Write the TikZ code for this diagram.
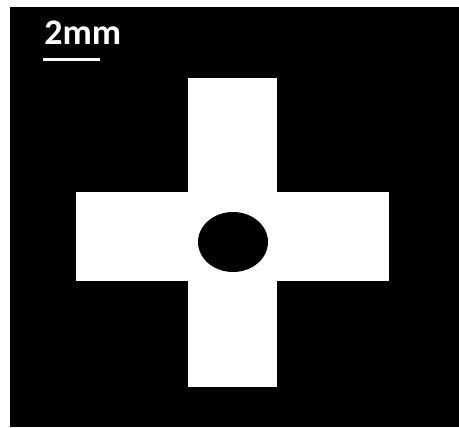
\documentclass[tikz,border=0pt]{standalone}
\usepackage{fontspec}
\setsansfont{Carlito}
\usetikzlibrary{positioning}

\begin{document}
\begin{tikzpicture}[x=0.5pt, y=-0.5pt, every node/.style={font=\sffamily\bfseries}]
\useasboundingbox (0,0) rectangle (459,427);
% Background
\fill[white] (0,0) rectangle (459,427);
\fill[black] (10,7) rectangle (459,427);
% Cross
\fill[white] (188,78) rectangle (277,387);
\fill[white] (76,192) rectangle (389,281);
% Hole
\fill[black] (233,242) ellipse [x radius=35, y radius=30];
% Scale bar
\node[text=white, font=\sffamily\bfseries\fontsize{18}{20}\selectfont, inner sep=0pt, anchor=south west] (scale label) at (44,45) {2mm};
\draw[white, line width=1.5pt] (43,60) -- (100,60);
\end{tikzpicture}
\end{document}
